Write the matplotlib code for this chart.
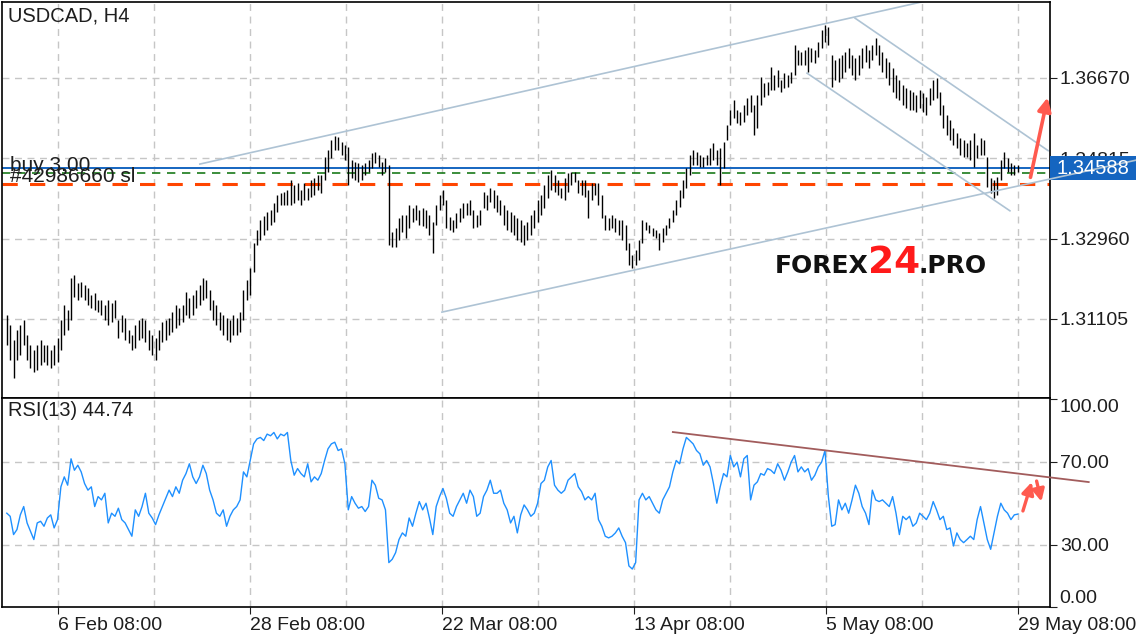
import matplotlib.pyplot as plt
from matplotlib.patches import Rectangle
from matplotlib.transforms import blended_transform_factory
import numpy as np

plt.rcParams['font.family'] = ['Liberation Sans', 'DejaVu Sans']

# H4 bars, high / low (one entry per bar)
highs = [
    1.3119, 1.3096, 1.3062, 1.3085, 1.3096, 1.3108, 1.3073, 1.3050, 1.3039, 1.3050,
    1.3062, 1.3050, 1.3050, 1.3039, 1.3050, 1.3066, 1.3108, 1.3143, 1.3131, 1.3205,
    1.3212, 1.3193, 1.3196, 1.3189, 1.3182, 1.3166, 1.3170, 1.3154, 1.3154, 1.3143,
    1.3154, 1.3147, 1.3154, 1.3108, 1.3119, 1.3112, 1.3085, 1.3073, 1.3096, 1.3108,
    1.3112, 1.3108, 1.3085, 1.3073, 1.3066, 1.3085, 1.3103, 1.3108, 1.3112, 1.3126,
    1.3143, 1.3136, 1.3143, 1.3173, 1.3159, 1.3166, 1.3177, 1.3189, 1.3205, 1.3200,
    1.3177, 1.3154, 1.3143, 1.3126, 1.3119, 1.3112, 1.3108, 1.3119, 1.3112, 1.3126,
    1.3177, 1.3200, 1.3228, 1.3286, 1.3316, 1.3339, 1.3348, 1.3357, 1.3362, 1.3378,
    1.3397, 1.3401, 1.3404, 1.3408, 1.3431, 1.3420, 1.3424, 1.3408, 1.3424, 1.3413,
    1.3431, 1.3436, 1.3443, 1.3443, 1.3484, 1.3501, 1.3524, 1.3533, 1.3531, 1.3519,
    1.3512, 1.3507, 1.3477, 1.3473, 1.3470, 1.3466, 1.3470, 1.3477, 1.3494, 1.3496,
    1.3489, 1.3473, 1.3482, 1.3466, 1.3311, 1.3320, 1.3343, 1.3350, 1.3350, 1.3374,
    1.3367, 1.3374, 1.3362, 1.3367, 1.3362, 1.3350, 1.3334, 1.3374, 1.3397, 1.3408,
    1.3385, 1.3346, 1.3339, 1.3355, 1.3367, 1.3378, 1.3378, 1.3385, 1.3362, 1.3350,
    1.3362, 1.3404, 1.3397, 1.3413, 1.3408, 1.3397, 1.3385, 1.3374, 1.3362, 1.3357,
    1.3350, 1.3343, 1.3339, 1.3327, 1.3334, 1.3350, 1.3362, 1.3385, 1.3397, 1.3420,
    1.3443, 1.3454, 1.3443, 1.3431, 1.3413, 1.3436, 1.3447, 1.3450, 1.3450, 1.3431,
    1.3431, 1.3431, 1.3408, 1.3424, 1.3424, 1.3424, 1.3397, 1.3350, 1.3343, 1.3350,
    1.3343, 1.3339, 1.3339, 1.3327, 1.3286, 1.3258, 1.3270, 1.3293, 1.3339, 1.3334,
    1.3327, 1.3320, 1.3316, 1.3309, 1.3320, 1.3327, 1.3343, 1.3362, 1.3385, 1.3408,
    1.3431, 1.3459, 1.3489, 1.3501, 1.3496, 1.3489, 1.3484, 1.3489, 1.3505, 1.3517,
    1.3501, 1.3505, 1.3519, 1.3558, 1.3593, 1.3616, 1.3593, 1.3588, 1.3604, 1.3621,
    1.3628, 1.3604, 1.3628, 1.3669, 1.3655, 1.3658, 1.3692, 1.3674, 1.3685, 1.3662,
    1.3678, 1.3674, 1.3681, 1.3743, 1.3731, 1.3727, 1.3731, 1.3738, 1.3736, 1.3731,
    1.3750, 1.3778, 1.3789, 1.3785, 1.3720, 1.3708, 1.3713, 1.3720, 1.3727, 1.3736,
    1.3720, 1.3713, 1.3720, 1.3736, 1.3743, 1.3731, 1.3743, 1.3759, 1.3743, 1.3727,
    1.3713, 1.3704, 1.3690, 1.3674, 1.3662, 1.3651, 1.3644, 1.3639, 1.3634, 1.3628,
    1.3639, 1.3632, 1.3623, 1.3644, 1.3662, 1.3667, 1.3634, 1.3604, 1.3581, 1.3570,
    1.3551, 1.3540, 1.3528, 1.3524, 1.3517, 1.3524, 1.3540, 1.3512, 1.3528, 1.3524,
    1.3484, 1.3436, 1.3431, 1.3438, 1.3477, 1.3496, 1.3482, 1.3470, 1.3466, 1.3466,
]
lows = [
    1.3050, 1.3015, 1.2974, 1.3015, 1.3027, 1.3050, 1.3015, 1.2997, 1.2988, 1.2992,
    1.3004, 1.3011, 1.3004, 1.2997, 1.3004, 1.3011, 1.3039, 1.3073, 1.3085, 1.3108,
    1.3161, 1.3154, 1.3161, 1.3154, 1.3143, 1.3136, 1.3131, 1.3126, 1.3119, 1.3108,
    1.3096, 1.3103, 1.3112, 1.3066, 1.3080, 1.3062, 1.3055, 1.3039, 1.3043, 1.3062,
    1.3066, 1.3057, 1.3039, 1.3027, 1.3015, 1.3039, 1.3057, 1.3062, 1.3073, 1.3080,
    1.3089, 1.3096, 1.3103, 1.3119, 1.3112, 1.3119, 1.3136, 1.3143, 1.3154, 1.3159,
    1.3131, 1.3108, 1.3096, 1.3085, 1.3073, 1.3062, 1.3057, 1.3073, 1.3073, 1.3080,
    1.3108, 1.3154, 1.3166, 1.3219, 1.3281, 1.3293, 1.3304, 1.3316, 1.3327, 1.3334,
    1.3357, 1.3374, 1.3374, 1.3374, 1.3374, 1.3378, 1.3385, 1.3374, 1.3385, 1.3385,
    1.3392, 1.3397, 1.3408, 1.3401, 1.3431, 1.3450, 1.3482, 1.3501, 1.3501, 1.3489,
    1.3477, 1.3420, 1.3436, 1.3431, 1.3427, 1.3431, 1.3443, 1.3450, 1.3459, 1.3470,
    1.3461, 1.3443, 1.3450, 1.3281, 1.3276, 1.3276, 1.3293, 1.3311, 1.3297, 1.3320,
    1.3334, 1.3339, 1.3327, 1.3325, 1.3320, 1.3304, 1.3263, 1.3327, 1.3362, 1.3374,
    1.3320, 1.3316, 1.3311, 1.3320, 1.3334, 1.3343, 1.3350, 1.3350, 1.3320, 1.3323,
    1.3327, 1.3367, 1.3362, 1.3380, 1.3367, 1.3357, 1.3350, 1.3327, 1.3316, 1.3311,
    1.3304, 1.3293, 1.3288, 1.3281, 1.3293, 1.3304, 1.3320, 1.3334, 1.3350, 1.3367,
    1.3390, 1.3408, 1.3404, 1.3397, 1.3390, 1.3385, 1.3404, 1.3420, 1.3427, 1.3401,
    1.3397, 1.3392, 1.3343, 1.3385, 1.3397, 1.3374, 1.3343, 1.3316, 1.3316, 1.3320,
    1.3311, 1.3304, 1.3293, 1.3270, 1.3235, 1.3228, 1.3235, 1.3246, 1.3286, 1.3316,
    1.3309, 1.3302, 1.3297, 1.3270, 1.3288, 1.3304, 1.3320, 1.3334, 1.3350, 1.3369,
    1.3390, 1.3413, 1.3443, 1.3466, 1.3466, 1.3461, 1.3461, 1.3466, 1.3466, 1.3477,
    1.3466, 1.3420, 1.3459, 1.3524, 1.3558, 1.3574, 1.3563, 1.3558, 1.3565, 1.3581,
    1.3588, 1.3535, 1.3551, 1.3604, 1.3623, 1.3628, 1.3639, 1.3639, 1.3646, 1.3634,
    1.3644, 1.3646, 1.3655, 1.3674, 1.3697, 1.3697, 1.3697, 1.3681, 1.3704, 1.3701,
    1.3715, 1.3736, 1.3750, 1.3743, 1.3646, 1.3662, 1.3658, 1.3667, 1.3681, 1.3690,
    1.3674, 1.3662, 1.3674, 1.3690, 1.3704, 1.3690, 1.3708, 1.3720, 1.3697, 1.3681,
    1.3667, 1.3651, 1.3634, 1.3621, 1.3616, 1.3604, 1.3598, 1.3593, 1.3593, 1.3588,
    1.3598, 1.3588, 1.3581, 1.3604, 1.3616, 1.3621, 1.3581, 1.3551, 1.3535, 1.3524,
    1.3512, 1.3505, 1.3489, 1.3484, 1.3484, 1.3477, 1.3461, 1.3482, 1.3489, 1.3489,
    1.3415, 1.3401, 1.3390, 1.3397, 1.3431, 1.3459, 1.3450, 1.3443, 1.3443, 1.3450,
]
rsi = [
    45.2, 43.7, 34.9, 37.3, 44.4, 48.4, 40.5, 36.5, 32.5, 40.5,
    41.3, 38.9, 42.9, 44.4, 38.1, 42.1, 57.9, 62.7, 58.7, 71.4,
    65.9, 68.3, 65.1, 59.5, 56.3, 57.9, 48.4, 53.2, 51.6, 54.8,
    40.5, 45.2, 43.7, 47.6, 42.1, 40.5, 37.3, 34.1, 46.8, 43.7,
    48.4, 54.8, 45.2, 42.9, 39.7, 44.4, 48.4, 52.4, 56.3, 53.2,
    57.9, 54.8, 61.1, 64.3, 69.0, 62.7, 59.5, 62.7, 68.3, 64.3,
    56.3, 51.6, 45.2, 43.7, 46.8, 38.9, 43.7, 46.8, 48.4, 51.6,
    65.1, 62.7, 70.6, 78.6, 81.0, 81.7, 80.2, 83.3, 82.5, 84.1,
    81.0, 83.3, 82.5, 84.1, 70.6, 63.5, 66.7, 64.3, 62.7, 69.0,
    60.3, 62.7, 61.1, 64.3, 70.6, 76.2, 78.6, 79.4, 75.4, 76.2,
    69.0, 46.8, 53.2, 50.0, 47.6, 48.4, 46.0, 48.4, 61.1, 58.7,
    52.4, 51.6, 46.8, 21.4, 23.0, 26.2, 32.5, 35.7, 34.1, 42.9,
    38.9, 45.2, 50.8, 46.8, 50.0, 42.9, 34.9, 48.4, 53.2, 57.1,
    52.4, 45.2, 43.7, 48.4, 51.6, 54.8, 50.0, 56.3, 53.2, 43.7,
    45.2, 53.2, 56.3, 61.1, 54.8, 54.8, 56.3, 50.0, 46.8, 40.5,
    43.7, 35.7, 44.4, 49.2, 46.8, 43.7, 45.2, 50.0, 59.5, 61.1,
    67.5, 70.6, 58.7, 56.3, 54.8, 56.3, 61.1, 62.7, 64.3, 57.9,
    55.6, 51.6, 53.2, 51.6, 54.8, 42.1, 38.9, 34.1, 33.3, 34.1,
    35.7, 38.1, 34.1, 31.0, 19.8, 18.3, 21.4, 51.6, 54.8, 51.6,
    53.2, 50.0, 46.8, 45.2, 51.6, 54.8, 57.9, 65.1, 70.6, 69.0,
    76.2, 81.7, 80.2, 78.6, 75.4, 73.8, 68.3, 70.6, 67.5, 59.5,
    50.0, 57.9, 64.3, 62.7, 73.0, 67.5, 69.8, 62.7, 71.4, 73.0,
    51.6, 58.7, 60.3, 64.3, 63.5, 66.7, 65.9, 64.3, 69.0, 65.9,
    61.1, 65.1, 69.8, 73.0, 65.1, 67.5, 65.1, 66.7, 61.1, 63.5,
    67.5, 69.8, 75.4, 53.2, 38.9, 39.7, 51.6, 46.8, 50.0, 45.2,
    51.6, 58.7, 54.8, 48.4, 45.2, 39.7, 56.3, 51.6, 50.8, 51.6,
    50.0, 48.4, 53.2, 45.2, 34.9, 43.7, 42.1, 43.7, 38.9, 40.5,
    45.2, 43.7, 42.1, 45.2, 50.8, 46.8, 42.1, 43.7, 37.3, 38.1,
    29.4, 35.7, 32.5, 31.0, 32.5, 34.1, 32.5, 42.1, 48.4, 40.5,
    32.5, 27.8, 35.7, 43.7, 50.0, 46.8, 45.2, 42.1, 44.4, 44.74,
]

price_ticks = [1.36670, 1.34815, 1.32960, 1.31105]
rsi_ticks = [0, 30, 70, 100]
date_labels = ['6 Feb 08:00', '28 Feb 08:00', '22 Mar 08:00',
               '13 Apr 08:00', '5 May 08:00', '29 May 08:00']
date_bars = [15.14, 71.93, 128.72, 185.51, 242.30, 299.09]
mid_bars = [43.5, 100.3, 157.1, 213.9, 270.7]

bid = 1.34588
buy_price = 1.34474
sl_price = 1.34220

# drawn trend lines: bar index / value pairs
chan_up_x, chan_up_y = [57.1, 280.0], [1.3468, 1.3859]
chan_lo_x, chan_lo_y = [128.7, 334.0], [1.3126, 1.3477]
desc_up_x, desc_up_y = [250.9, 308.0], [1.3805, 1.3499]
desc_lo_x, desc_lo_y = [236.7, 296.7], [1.3678, 1.3360]
rsi_tl_x, rsi_tl_y = [197.0, 320.0], [84.3, 60.2]

fig = plt.figure(figsize=(11.36, 6.4), dpi=100)
ax = fig.add_axes([2 / 1136, 1 - 398 / 640, 1048 / 1136, 396 / 640])
ax2 = fig.add_axes([2 / 1136, 1 - 607 / 640, 1048 / 1136, 209 / 640])

grid_kw = dict(color='#c6c6c6', linestyle=(0, (5, 4)), linewidth=1.0)
chan_col = '#aec3d4'
red = '#ff5a4f'
txt_col = '#1e1e1e'

x = np.arange(len(highs))
ax.vlines(x, lows, highs, color='black', linewidth=1.0, zorder=3)
ax.set_xlim(-1.42, 308.55)
ax.set_ylim(1.29276, 1.38424)

ax.set_xticks(date_bars + mid_bars)
ax.set_xticklabels([])
ax.tick_params(axis='x', length=0)
ax.yaxis.tick_right()
ax.set_yticks(price_ticks)
ax.set_yticklabels(['%.5f' % v for v in price_ticks])
ax.tick_params(axis='y', length=5, labelsize=14, pad=2, colors=txt_col)
ax.grid(True, **grid_kw)
ax.set_axisbelow(True)

# order lines
ax.axhline(bid, color='#1565c0', linewidth=1.4, zorder=2)
ax.axhline(buy_price, color='#1a7a1a', linewidth=1.2, linestyle=(0, (5, 4)), zorder=2)
ax.axhline(sl_price, color='#ff4500', linewidth=2.2, linestyle=(0, (5, 4)), zorder=2)
ax.annotate('buy 3.00', xy=(0, buy_price), xycoords=('axes fraction', 'data'),
            xytext=(8, -2), textcoords='offset pixels', fontsize=15, color=txt_col,
            va='bottom', zorder=6)
ax.annotate('#42986660 sl', xy=(0, sl_price), xycoords=('axes fraction', 'data'),
            xytext=(8, -2), textcoords='offset pixels', fontsize=15, color=txt_col,
            va='bottom', zorder=6)

# bid price box on the axis
bt = blended_transform_factory(ax.transAxes, ax.transData)
ax.add_patch(Rectangle((1.0, bid - 0.00282), 86 / 1048, 0.00555, transform=bt,
                       facecolor='#1565c0', edgecolor='none', clip_on=False, zorder=4))
ax.text(1.0 + 7 / 1048, bid, '%.5f' % bid, transform=bt, color='white',
        fontsize=14.5, va='center', ha='left', zorder=6, clip_on=False)

# trend channels
ax.plot(chan_up_x, chan_up_y, color=chan_col, linewidth=1.2, zorder=2)
ax.plot(chan_lo_x, chan_lo_y, color=chan_col, linewidth=1.2, zorder=5, clip_on=False)
ax.plot(desc_up_x, desc_up_y, color=chan_col, linewidth=1.2, zorder=2)
ax.plot(desc_lo_x, desc_lo_y, color=chan_col, linewidth=1.2, zorder=2)

ax.annotate('', xy=(308.0, 1.3628), xytext=(302.6, 1.3431),
            arrowprops=dict(arrowstyle='-|>', color=red, lw=2.6, mutation_scale=20),
            annotation_clip=False, zorder=7)

ax.text(6 / 1048, 1 - 14 / 396, 'USDCAD, H4', transform=ax.transAxes,
        fontsize=14.5, color=txt_col, va='center', ha='left')

# watermark, pieces placed edge to edge
renderer = fig.canvas.get_renderer()
wm_x = 0.7376
wm_y = 0.3157
for part, size, col in [('FOREX', 18, '#111111'), ('24', 27, '#ff1a1a'), ('.PRO', 18, '#111111')]:
    t = ax.text(wm_x, wm_y, part, transform=ax.transAxes, fontsize=size,
                fontweight='heavy', family='DejaVu Sans', color=col, va='baseline')
    bb = t.get_window_extent(renderer)
    wm_x = ax.transAxes.inverted().transform((bb.x1, bb.y0))[0] - 0.001

# RSI panel
ax2.plot(x, rsi, color='#1e90ff', linewidth=1.0, zorder=3)
ax2.set_xlim(-1.42, 308.55)
ax2.set_ylim(0, 100.7)
ax2.set_xticks(date_bars)
ax2.set_xticklabels(date_labels)
ax2.set_xticks(mid_bars, minor=True)
ax2.tick_params(axis='x', which='major', length=5, labelsize=14, colors=txt_col, pad=2)
ax2.tick_params(axis='x', which='minor', length=0)
for lbl in ax2.get_xticklabels():
    lbl.set_ha('left')
ax2.grid(True, axis='x', which='both', **grid_kw)
for lv in [30, 70]:
    ax2.axhline(lv, zorder=1, **grid_kw)
ax2.yaxis.tick_right()
ax2.set_yticks(rsi_ticks)
ax2.set_yticklabels(['%.2f' % v for v in rsi_ticks])
ax2.tick_params(axis='y', length=5, labelsize=14, pad=2, colors=txt_col)
ylbls = ax2.get_yticklabels()
ylbls[0].set_va('bottom')
ylbls[-1].set_va('top')

ax2.plot(rsi_tl_x, rsi_tl_y, color='#a25c5c', linewidth=1.3, zorder=4, clip_on=False)
ax2.annotate('', xy=(303.4, 61.5), xytext=(300.3, 45.0),
             arrowprops=dict(arrowstyle='-|>', color=red, lw=2.4, mutation_scale=18),
             annotation_clip=False)
ax2.annotate('', xy=(306.2, 49.5), xytext=(304.4, 62.0),
             arrowprops=dict(arrowstyle='-|>', color=red, lw=2.4, mutation_scale=18),
             annotation_clip=False)
ax2.text(6 / 1048, 1 - 12 / 209, 'RSI(13) 44.74', transform=ax2.transAxes,
         fontsize=14.5, color=txt_col, va='center', ha='left')

for a in (ax, ax2):
    for s in a.spines.values():
        s.set_color('black')
        s.set_linewidth(1.2)

fig.savefig('out.png', dpi=100)
